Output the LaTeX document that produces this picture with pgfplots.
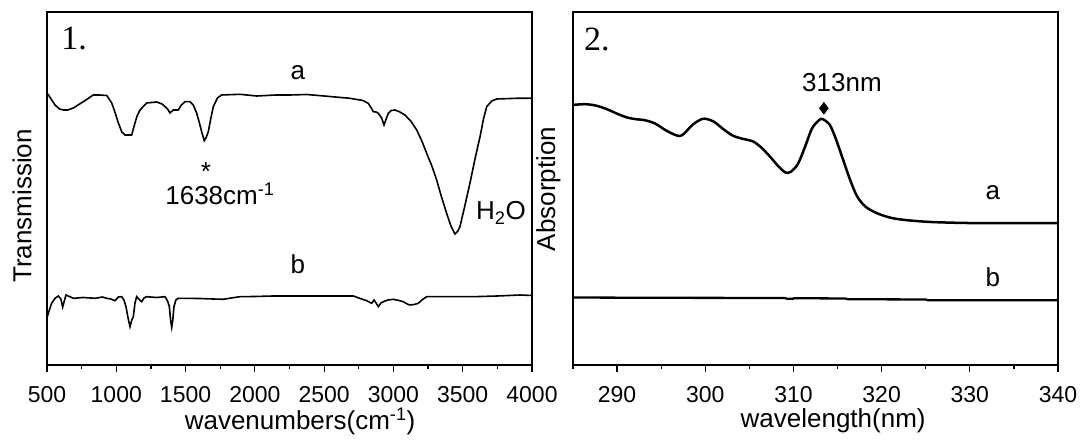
\documentclass[border=0pt]{standalone}
\usepackage{pgfplots}
\pgfplotsset{compat=1.18}
\usepackage{fontspec}
\setmainfont{Liberation Sans}
\newfontfamily\serifnum{Liberation Serif}
\begin{document}
\begin{tikzpicture}[font=\fontsize{26bp}{30bp}\selectfont]
\path[use as bounding box] (0bp,0bp) rectangle (1086bp,441bp);
\pgfplotsset{
  common/.style={
    scale only axis, width=485bp, height=353bp,
    ymin=-365, ymax=-12, ytick=\empty,
    axis line style={line width=1.7bp},
    tick align=outside, tick pos=bottom,
    major tick length=7bp, minor tick length=4bp,
    every tick/.style={line width=1.2bp, black},
    /pgf/number format/assume math mode=true,
    /pgf/number format/1000 sep={},
    xticklabel style={font=\fontsize{23bp}{27bp}\selectfont, anchor=north, inner sep=0pt, yshift=-14bp},
    clip=false,
  }
}
% ---------------- Panel 1 ----------------
\begin{axis}[common, at={(47bp,76bp)}, anchor=south west,
  xmin=500, xmax=4000, xtick={500,1000,...,4000}, minor x tick num=1]
\addplot[black, line width=1.6bp] coordinates {
(500,-93) (520,-97) (558,-105) (590,-109) (618,-110) (650,-110) (690,-108) (762,-101.7) (834,-95) (880,-95) (931,-95.5) (967,-103) (990,-112) (1015,-123) (1040,-132) (1063,-135) (1111,-135) (1135,-123) (1150,-116) (1171,-110) (1219,-103) (1292,-102) (1330,-104) (1352,-106.7) (1370,-109) (1388,-113) (1411,-110) (1447,-110) (1470,-105) (1496,-101.7) (1532,-101.7) (1555,-105) (1580,-113) (1600,-123) (1616,-131.7) (1635,-140.7) (1650,-137) (1664,-131.7) (1680,-120) (1700,-106.7) (1730,-98) (1760,-95) (1893,-94.3) (2013,-96) (2150,-95) (2253,-95) (2374,-94.5) (2500,-96) (2686,-98.3) (2780,-100.5) (2818,-103.3) (2840,-108) (2855,-111.7) (2875,-112) (2891,-113.3) (2915,-118) (2932,-125) (2945,-120) (2963,-113.3) (2985,-110.5) (3011,-110) (3040,-111.5) (3083,-115) (3125,-121) (3168,-130) (3205,-141) (3240,-153.3) (3280,-167) (3312,-180) (3345,-196) (3384,-213.3) (3415,-226) (3444,-234) (3465,-231) (3480,-226.7) (3515,-206) (3552,-183.3) (3590,-158) (3625,-136.7) (3650,-119) (3673,-106.7) (3710,-101) (3745,-99) (3889,-98.3) (4000,-98.3)
};
\addplot[black, line width=1.6bp] coordinates {
(500,-318) (510,-313) (534,-303) (560,-298) (582,-296) (600,-299) (613,-307) (625,-301) (637,-295) (690,-298.3) (760,-297.5) (850,-298.3) (900,-297) (931,-298.3) (960,-299) (991,-300.7) (1015,-297) (1039,-296.7) (1055,-300) (1070,-306.7) (1085,-318) (1099,-326.7) (1112,-320) (1123,-316.7) (1135,-303) (1147,-296.7) (1165,-299.5) (1183,-301.7) (1200,-298) (1219,-296.7) (1290,-297.5) (1352,-296.7) (1370,-301) (1383,-306.7) (1392,-320) (1400,-327.3) (1408,-320) (1416,-306.7) (1430,-300) (1447,-298.3) (1600,-298.5) (1700,-299) (1772,-299.3) (1830,-298) (1893,-296.7) (2000,-296.5) (2133,-296) (2400,-296) (2711,-296) (2760,-298.5) (2807,-300.7) (2843,-303.3) (2860,-300) (2875,-303) (2891,-306.7) (2910,-303) (2927,-301.7) (2960,-300) (2999,-299.3) (3040,-300.5) (3071,-301.7) (3100,-304) (3119,-305) (3150,-304.5) (3179,-303.3) (3210,-299.5) (3240,-296.7) (3400,-296.7) (3577,-296.7) (3750,-296) (3913,-295) (4000,-295.5)
};
\node[font=\serifnum\fontsize{34bp}{38bp}\selectfont] at (axis cs:695,-39) {1.};
\node at (axis cs:2311,-73) {a};
\node at (axis cs:2311,-264) {b};
\node[inner sep=0pt] at (axis cs:1647,-172) {*};
\node at (axis cs:1748,-194) {1638cm\textsuperscript{-1}};
\node at (axis cs:3776,-213) {H\textsubscript{2}O};
\node[rotate=90] at (axis cs:320,-206) {Transmission};
\node at (axis cs:2326,-421) {wavenumbers(cm\textsuperscript{-1})};
\end{axis}
% ---------------- Panel 2 ----------------
\begin{axis}[common, at={(573bp,76bp)}, anchor=south west,
  xmin=285, xmax=340, xtick={290,300,...,340}, minor xtick={285,295,...,335}]
\addplot[black, line width=2.5bp, smooth] coordinates {
(285,-104.9) (286.4,-104.2) (287.6,-105.6) (288.8,-109) (289.9,-113.3) (291.1,-117.4) (292.2,-119.3) (293.1,-120.1) (294.3,-123.5) (295.5,-130.2) (296.5,-134.6) (297.1,-136) (297.6,-133.6) (298.6,-124.5) (299.6,-119.1) (300.2,-119.1) (301.0,-121.8) (302.2,-130.2) (303.2,-136) (304.2,-138.7) (305.4,-141.4) (306.3,-147.1) (307.3,-156.2) (308.3,-166.4) (309.1,-172.5) (309.7,-171.8) (310.5,-164) (311.3,-147.1) (312.1,-128.5) (312.9,-120.1) (313.3,-119.1) (314.1,-124.5) (314.8,-138.7) (315.6,-159) (316.4,-179.2) (317.2,-196.1) (318.2,-206.9) (319.6,-213.7) (321.2,-218.1) (323.1,-220.4) (325.9,-222.1) (330.7,-223.1) (340,-223.1)
};
\addplot[black, line width=2.3bp] coordinates {
(285,-297.4) (288,-297.6) (295,-297.8) (309,-298.0) (309.3,-298.8) (309.9,-298.8) (310.1,-298.2) (315.9,-298.5) (316.1,-299.2) (325,-299.5) (325.2,-300.2) (340,-300.3)
};
\addplot[only marks, mark=diamond*, mark size=6bp, black] coordinates {(313.45,-108.3)};
\node[font=\serifnum\fontsize{34bp}{38bp}\selectfont] at (axis cs:287.7,-39) {2.};
\node at (axis cs:315.5,-83) {313nm};
\node at (axis cs:332.6,-193) {a};
\node at (axis cs:332.6,-277) {b};
\node[rotate=90] at (axis cs:282.2,-189) {Absorption};
\node at (axis cs:314.5,-421) {wavelength(nm)};
\end{axis}
\end{tikzpicture}
\end{document}
